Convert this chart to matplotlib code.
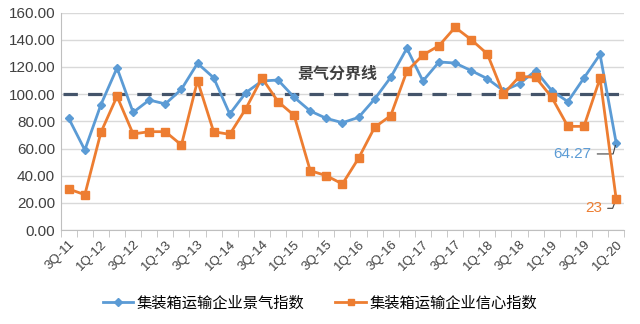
import matplotlib
matplotlib.use("Agg")
import matplotlib.pyplot as plt
import numpy as np

plt.rcParams['font.family'] = ['Liberation Sans', 'Noto Sans CJK SC', 'DejaVu Sans']

quarters = ["3Q-11", "4Q-11",
            "1Q-12", "2Q-12", "3Q-12", "4Q-12",
            "1Q-13", "2Q-13", "3Q-13", "4Q-13",
            "1Q-14", "2Q-14", "3Q-14", "4Q-14",
            "1Q-15", "2Q-15", "3Q-15", "4Q-15",
            "1Q-16", "2Q-16", "3Q-16", "4Q-16",
            "1Q-17", "2Q-17", "3Q-17", "4Q-17",
            "1Q-18", "2Q-18", "3Q-18", "4Q-18",
            "1Q-19", "2Q-19", "3Q-19", "4Q-19",
            "1Q-20"]

prosperity = [82.2, 58.9, 92.3, 119.3, 86.6, 95.7, 92.8, 103.6, 122.7, 112.1,
              85.4, 101.1, 109.7, 110.4, 97.7, 87.6, 82.2, 79.0, 82.9, 96.4,
              112.4, 133.7, 109.7, 123.7, 122.9, 117.3, 111.4, 102.6, 107.7, 117.3,
              102.6, 94.5, 111.9, 129.3, 64.27]

confidence = [30.2, 26.0, 71.9, 98.4, 70.7, 72.4, 72.4, 62.6, 109.9, 72.4,
              70.4, 89.3, 111.9, 94.5, 84.4, 43.7, 40.0, 33.9, 52.8, 75.6,
              84.2, 116.8, 128.8, 135.7, 149.2, 140.1, 129.6, 100.1, 113.1, 112.4,
              97.7, 76.3, 76.3, 111.7, 23.0]

boundary = 100
series_names = ["集装箱运输企业景气指数", "集装箱运输企业信心指数"]
blue = "#5B9BD5"
orange = "#ED7D31"

fig = plt.figure(figsize=(6.4, 3.24), dpi=100)
ax = fig.add_axes([0.0948, 0.290, 0.8805, 0.671])

x = np.arange(len(quarters))
ax.axhline(boundary, xmin=0.005, xmax=1.0, color="#44546A", lw=2.3,
           dashes=(4.5, 3.2), zorder=2)
l1, = ax.plot(x, prosperity, color=blue, lw=2, marker="D", ms=4.5,
              label=series_names[0], zorder=3)
l2, = ax.plot(x, confidence, color=orange, lw=2, marker="s", ms=6,
              label=series_names[1], zorder=4)

ax.set_xlim(-0.5, len(quarters) - 0.5)
ax.set_ylim(0, 160)
ax.set_yticks(np.arange(0, 161, 20))
ax.set_yticklabels([f"{v:.2f}" for v in np.arange(0, 161, 20)], fontsize=11,
                   color="#404040")
ax.grid(axis="y", color="#D9D9D9", lw=1)
ax.set_axisbelow(True)

ax.set_xticks(x[::2])
ax.set_xticklabels(quarters[::2], rotation=45, ha="right", rotation_mode="anchor",
                   fontsize=9.5, color="#404040")
ax.tick_params(axis="x", length=0, pad=6)
ax.set_xticks(np.arange(-0.5, len(quarters), 1), minor=True)
ax.tick_params(axis="x", which="minor", length=5, color="#BFBFBF")
ax.tick_params(axis="y", length=0, pad=4)

for s in ["top", "right"]:
    ax.spines[s].set_visible(False)
ax.spines["left"].set_color("#BFBFBF")
ax.spines["bottom"].set_color("#BFBFBF")

ax.text(16.7, 115, "景气分界线", fontsize=11.5, fontweight="bold", color="#404040",
        ha="center", va="center", family=["Noto Sans CJK SC", "DejaVu Sans"])

last = len(quarters) - 1
ax.annotate(f"{prosperity[-1]:.2f}", xy=(last, prosperity[-1]), xytext=(31.3, 56),
            fontsize=11, color=blue, ha="center", va="center",
            arrowprops=dict(arrowstyle="-", color="#404040", lw=0.8,
                            connectionstyle="angle,angleA=0,angleB=75,rad=0",
                            shrinkA=2, shrinkB=2))
ax.annotate(f"{confidence[-1]:g}", xy=(last, confidence[-1]), xytext=(32.6, 16),
            fontsize=11, color=orange, ha="center", va="center",
            arrowprops=dict(arrowstyle="-", color="#404040", lw=0.8,
                            connectionstyle="angle,angleA=0,angleB=70,rad=0",
                            shrinkA=2, shrinkB=2))

fig.legend(handles=[l1, l2], loc="center", bbox_to_anchor=(0.5, 0.065), ncol=2,
           frameon=False, handlelength=2.0, handletextpad=0.25, columnspacing=2.0,
           markerscale=0.8,
           prop={"family": ["Noto Sans CJK SC", "DejaVu Sans"], "size": 11})

fig.savefig("out.png", dpi=100, facecolor="white")
